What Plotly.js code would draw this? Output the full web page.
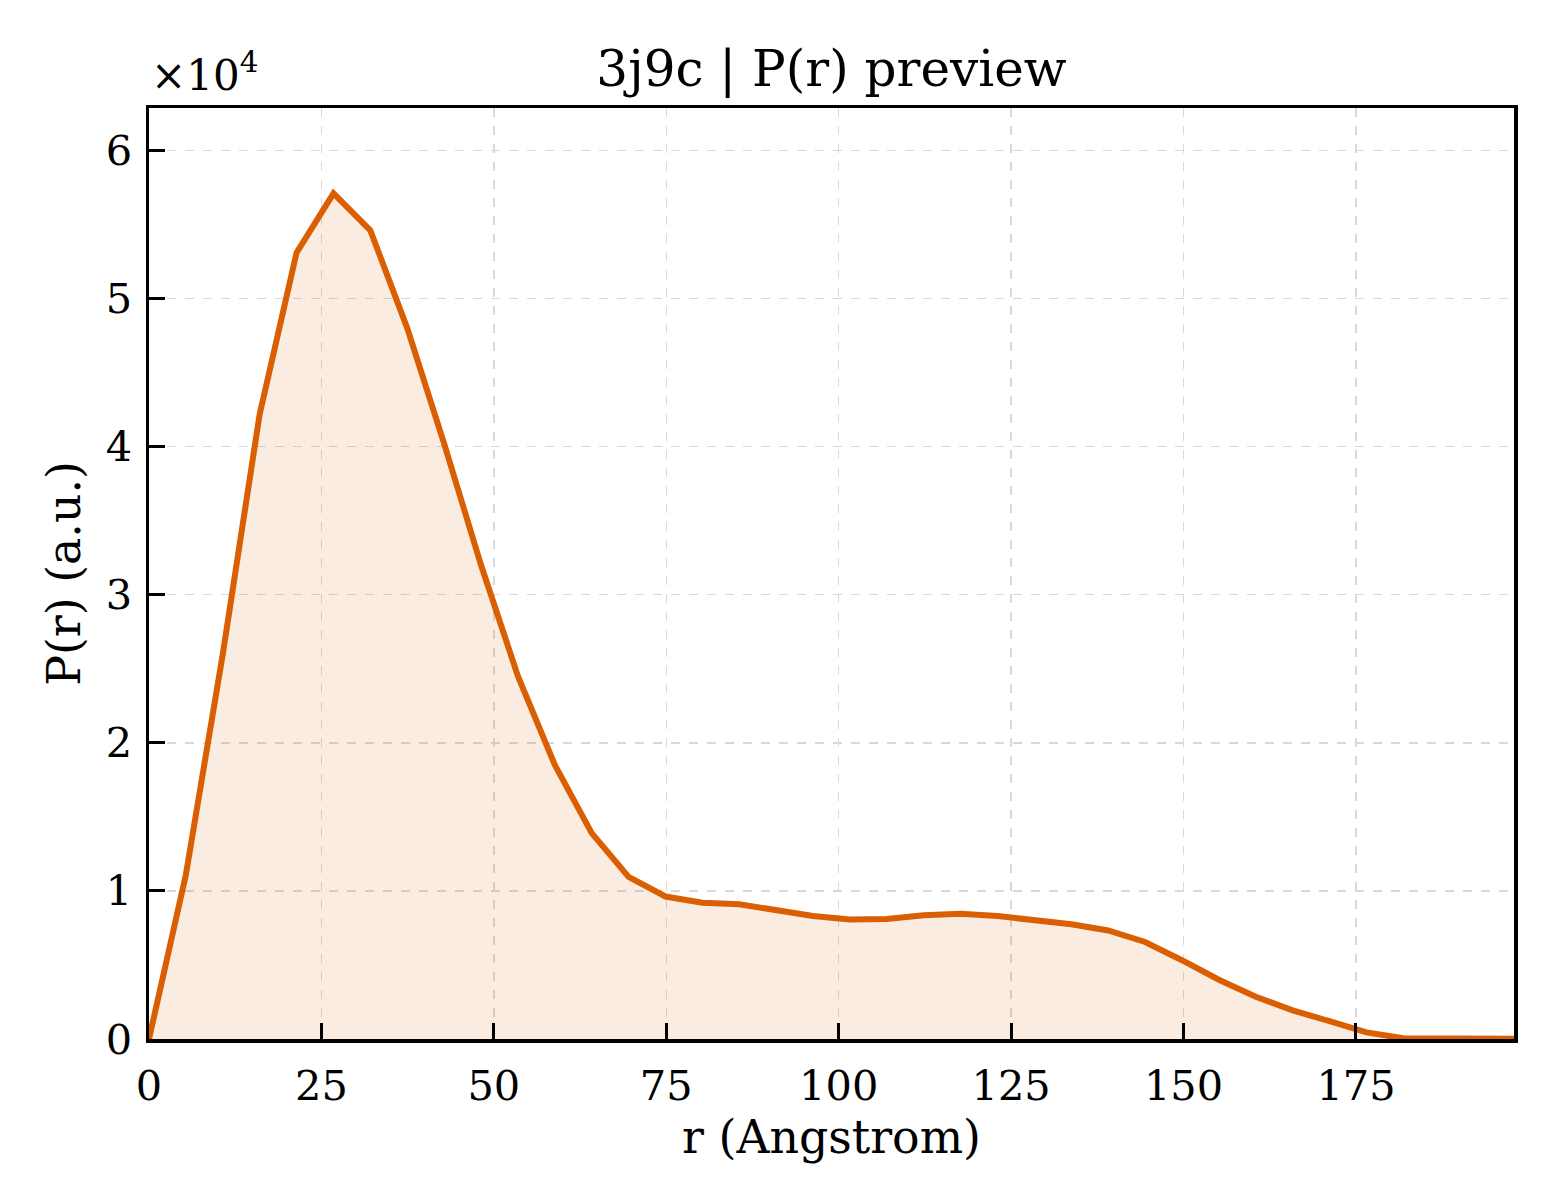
<!DOCTYPE html>
<html>
<head>
<meta charset="utf-8">
<script src="https://cdn.plot.ly/plotly-3.0.1.min.js"></script>
<style>html,body{margin:0;padding:0;background:#fff;}#chart{width:1560px;height:1200px;}</style>
</head>
<body>
<div id="chart"></div>
<script>
// r values (Angstrom)
const rValues = [0, 5.35, 10.70, 16.05, 21.40, 26.75, 32.09, 37.44, 42.79, 48.14,
  53.49, 58.84, 64.19, 69.54, 74.89, 80.24, 85.58, 90.93, 96.28, 101.63,
  106.98, 112.33, 117.68, 123.03, 128.38, 133.73, 139.07, 144.42, 149.77, 155.12,
  160.47, 165.82, 171.17, 176.52, 181.87, 187.22, 192.56, 197.91];
// P(r) values (a.u.)
const prValues = [0, 11100, 26000, 42200, 53100, 57100, 54600, 48000, 40200, 32000,
  24500, 18500, 13900, 10950, 9620, 9200, 9100, 8730, 8300, 8070,
  8100, 8350, 8450, 8300, 8050, 7750, 7330, 6550, 5320, 4000,
  2850, 1930, 1200, 450, 50, 30, 20, 10];
const xTickVals = [0, 25, 50, 75, 100, 125, 150, 175];
const yTickVals = [0, 10000, 20000, 30000, 40000, 50000, 60000];
const yTickText = ['0', '1', '2', '3', '4', '5', '6'];

const lineColor = '#d95f02';
const fontFam = '"DejaVu Serif", serif';

const trace = {
  x: rValues, y: prValues, type: 'scatter', mode: 'lines',
  line: {color: lineColor, width: 6},
  fill: 'tozeroy', fillcolor: 'rgba(217,95,2,0.12)',
  hoverinfo: 'x+y', showlegend: false
};

const axisCommon = {
  showline: true, linecolor: '#000', linewidth: 3.5, mirror: true,
  ticks: 'inside', ticklen: 16, tickwidth: 3, tickcolor: '#000',
  showgrid: true, gridcolor: '#d9d9d9', gridwidth: 1.5, griddash: 'dash',
  zeroline: false, tickfont: {family: fontFam, size: 41.5, color: '#000'}
};

const layout = {
  width: 1560, height: 1200,
  margin: {l: 149, r: 46, t: 108, b: 161, pad: 0},
  paper_bgcolor: '#fff', plot_bgcolor: '#fff',
  font: {family: fontFam, color: '#000'},
  title: {text: '3j9c | P(r) preview', font: {family: fontFam, size: 50, color: '#000'},
    x: 0.5, xref: 'paper', xanchor: 'center', y: 1 - 68/1200, yref: 'container', yanchor: 'middle'},
  xaxis: Object.assign({}, axisCommon, {
    range: [0, 197.91], tickmode: 'array', tickvals: xTickVals,
    ticklabelstandoff: 8,
    title: {text: 'r (Angstrom)', font: {family: fontFam, size: 45.8, color: '#000'}, standoff: 12}
  }),
  yaxis: Object.assign({}, axisCommon, {
    range: [0, 62860], tickmode: 'array', tickvals: yTickVals, ticktext: yTickText,
    ticklabelstandoff: 5,
    title: {text: 'P(r) (a.u.)', font: {family: fontFam, size: 45.8, color: '#000'}, standoff: 12}
  }),
  annotations: [{
    text: '×10<sup>4</sup>', xref: 'paper', yref: 'paper', x: 0, y: 1,
    xanchor: 'left', yanchor: 'bottom', xshift: 0, yshift: 6, showarrow: false,
    font: {family: fontFam, size: 42, color: '#000'}
  }]
};

Plotly.newPlot('chart', [trace], layout, {displayModeBar: false, staticPlot: true});
</script>
</body>
</html>
